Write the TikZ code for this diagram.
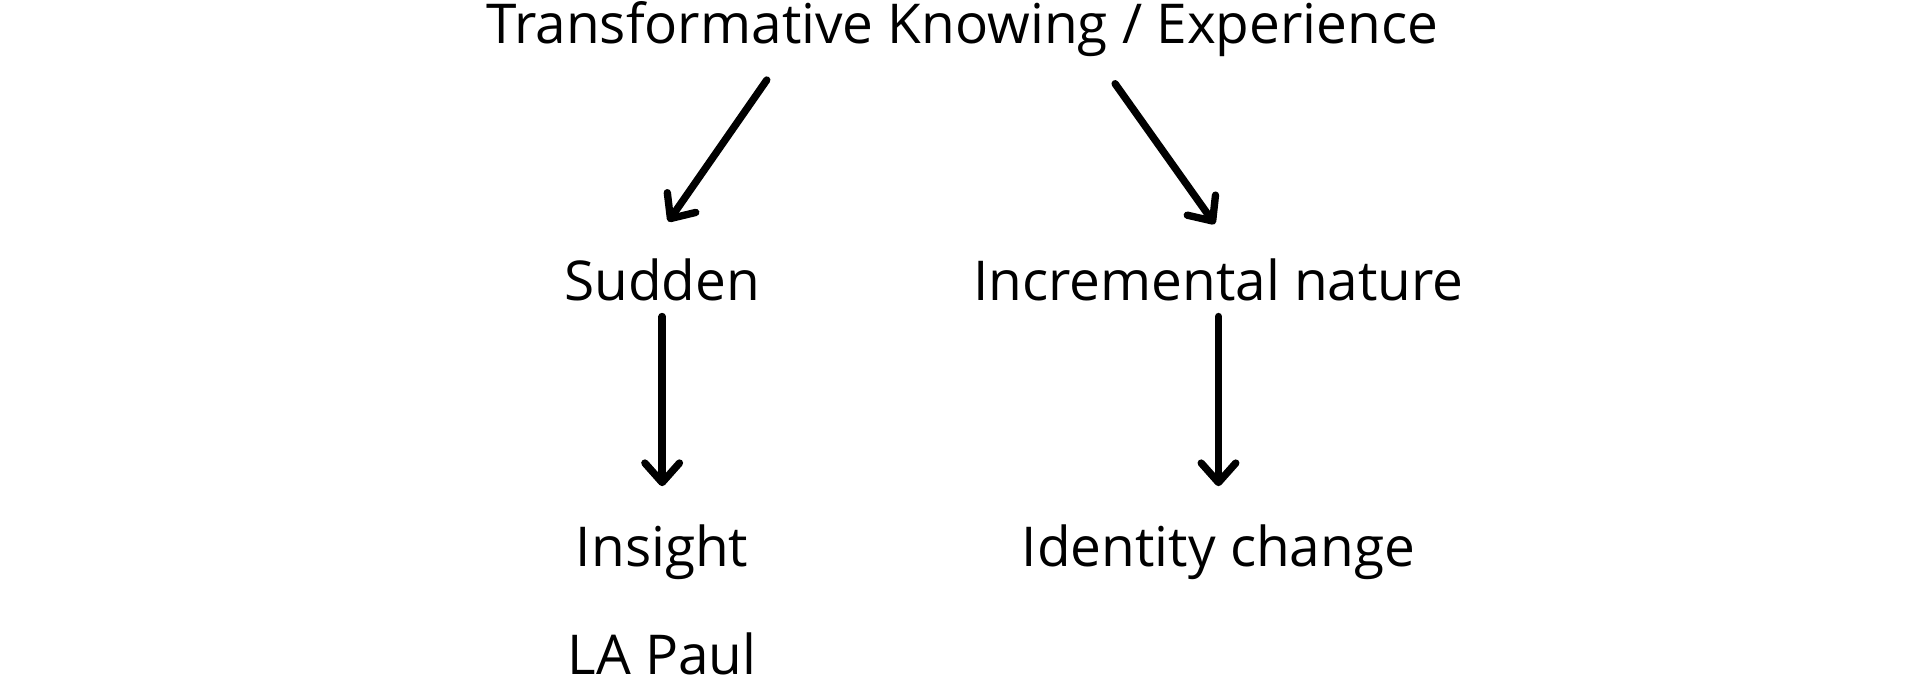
\documentclass[tikz,border=0pt]{standalone}
\usepackage{fontspec}
\setmainfont{Open Sans}
\usetikzlibrary{arrows.meta, positioning}

\begin{document}
\begin{tikzpicture}[
  label/.style={font=\fontsize{12.7}{15}\selectfont, inner sep=0pt, anchor=base},
  arr/.style={line width=1.7pt, line cap=round, line join=round,
    -{Straight Barb[length=4.5pt, width=8pt, line width=1.7pt, round]}}
]
  \useasboundingbox (0,0) rectangle (15.6,-5.566);

  % Labels
  \node[label] (title) at (7.82,-0.35) {Transformative Knowing / Experience};
  \node[label] (sudden) at (5.38,-2.44) {Sudden};
  \node[label] (incr) at (9.90,-2.44) {Incremental nature};
  \node[label] (insight) at (5.38,-4.60) {Insight};
  \node[label] (ident) at (9.90,-4.60) {Identity change};
  \node[label] (paul) at (5.38,-5.48) {LA Paul};

  % Arrows
  \coordinate (t1) at (6.23,-0.65);
  \coordinate (t2) at (9.06,-0.68);
  \coordinate (s1) at (5.43,-1.80);
  \coordinate (s2) at (9.87,-1.82);
  \draw[arr] (t1) -- (s1);
  \draw[arr] (t2) -- (s2);
  \draw[arr] (sudden.south) ++(0,-0.12) coordinate (a1) -- (a1 |- 0,-3.95);
  \draw[arr] (incr.south) ++(0,-0.12) coordinate (a2) -- (a2 |- 0,-3.95);
\end{tikzpicture}
\end{document}
